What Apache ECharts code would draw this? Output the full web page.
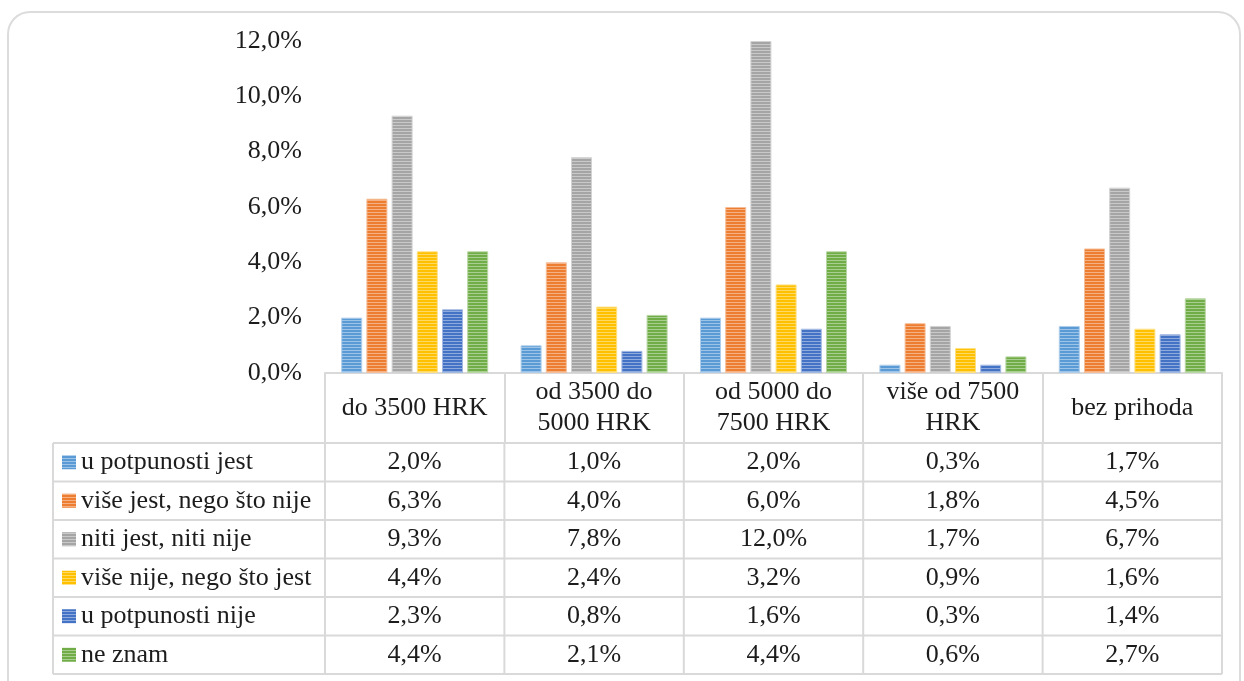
<!DOCTYPE html>
<html>
<head>
<meta charset="utf-8">
<script src="https://cdn.jsdelivr.net/npm/echarts@6/dist/echarts.min.js"></script>
<style>
html,body{margin:0;padding:0;background:#fff;}
#chart{width:1244px;height:681px;}
</style>
</head>
<body>
<div id="chart"></div>
<script>
// ---- data ----
const categories = ['do 3500 HRK', 'od 3500 do\n5000 HRK', 'od 5000 do\n7500 HRK', 'više od 7500\nHRK', 'bez prihoda'];
const seriesNames = ['u potpunosti jest', 'više jest, nego što nije', 'niti jest, niti nije', 'više nije, nego što jest', 'u potpunosti nije', 'ne znam'];
const uPotpunostiJest = [2.0, 1.0, 2.0, 0.3, 1.7];
const viseJest = [6.3, 4.0, 6.0, 1.8, 4.5];
const nitiJestNitiNije = [9.3, 7.8, 12.0, 1.7, 6.7];
const viseNije = [4.4, 2.4, 3.2, 0.9, 1.6];
const uPotpunostiNije = [2.3, 0.8, 1.6, 0.3, 1.4];
const neZnam = [4.4, 2.1, 4.4, 0.6, 2.7];
const seriesValues = [uPotpunostiJest, viseJest, nitiJestNitiNije, viseNije, uPotpunostiNije, neZnam];
const yTicks = [0, 2, 4, 6, 8, 10, 12];
const colors = ['#5B9BD5', '#ED7D31', '#A5A5A5', '#FFC000', '#4472C4', '#70AD47'];

const fmt = v => v.toFixed(1).replace('.', ',') + '%';
const FONT = '"Liberation Serif", "Times New Roman", serif';
const FS = 26;
const TXT = '#1c1c1c';
const LINE = '#d9d9d9';

function lighten(hex, t) {
  const n = parseInt(hex.slice(1), 16);
  const r = (n >> 16) & 255, g = (n >> 8) & 255, b = n & 255;
  const f = c => Math.round(c + (255 - c) * t);
  return 'rgb(' + f(r) + ',' + f(g) + ',' + f(b) + ')';
}
function pattern(hex) {
  const c = document.createElement('canvas');
  c.width = 4; c.height = 3;
  const ctx = c.getContext('2d');
  ctx.fillStyle = hex; ctx.fillRect(0, 0, 4, 3);
  ctx.fillStyle = lighten(hex, 0.4); ctx.fillRect(0, 2, 4, 1);
  return { image: c, repeat: 'repeat' };
}

const chart = echarts.init(document.getElementById('chart'), null, { renderer: 'canvas' });

const gridLeft = 325, gridRight = 22, gridTop = 41, gridBottom = 308;

const option = {
  animation: false,
  backgroundColor: '#fff',
  grid: { left: gridLeft, right: gridRight, top: gridTop, bottom: gridBottom, containLabel: false },
  xAxis: {
    type: 'category',
    data: categories,
    axisLine: { lineStyle: { color: LINE, width: 2 } },
    axisTick: { show: true, interval: 0, length: 70, lineStyle: { color: LINE, width: 2 } },
    axisLabel: { interval: 0, margin: 35, verticalAlign: 'middle', fontFamily: FONT, fontSize: FS, color: TXT, lineHeight: 31, align: 'center' },
    splitLine: { show: false }
  },
  yAxis: {
    type: 'value',
    min: yTicks[0], max: yTicks[yTicks.length - 1], interval: 2,
    axisLine: { show: false }, axisTick: { show: false }, splitLine: { show: false },
    axisLabel: { margin: 23, fontFamily: FONT, fontSize: FS, color: TXT, formatter: v => fmt(v) }
  },
  series: seriesNames.map((name, i) => ({
    name, type: 'bar', data: seriesValues[i],
    barWidth: 21, barGap: '20%',
    itemStyle: { color: pattern(colors[i]), borderColor: lighten(colors[i], 0.5), borderWidth: 1 }
  }))
};
chart.setOption(option);

// ---- data table built from the arrays ----
const headerBottom = 443, rowH = 38.5, tableLeft = 53;
const plotRight = 1244 - gridRight;
const colW = (plotRight - gridLeft) / categories.length;
const g = [];
// outer rounded frame
g.push({ type: 'rect', shape: { x: 8, y: 12, width: 1232, height: 720, r: 22 }, style: { fill: 'none', stroke: '#dcdcdc', lineWidth: 2 }, z: 0, silent: true });
for (let r = 0; r <= seriesNames.length; r++) {
  const y = headerBottom + r * rowH;
  g.push({ type: 'line', shape: { x1: tableLeft, y1: y, x2: plotRight, y2: y }, style: { stroke: LINE, lineWidth: 2 }, silent: true });
}
const yEnd = headerBottom + seriesNames.length * rowH;
g.push({ type: 'line', shape: { x1: tableLeft, y1: headerBottom, x2: tableLeft, y2: yEnd }, style: { stroke: LINE, lineWidth: 2 }, silent: true });
for (let c = 0; c <= categories.length; c++) {
  const x = gridLeft + c * colW;
  g.push({ type: 'line', shape: { x1: x, y1: headerBottom, x2: x, y2: yEnd }, style: { stroke: LINE, lineWidth: 2 }, silent: true });
}
seriesNames.forEach((name, r) => {
  const cy = headerBottom + r * rowH + rowH / 2;
  g.push({ type: 'rect', shape: { x: 62, y: cy - 7, width: 14, height: 14 }, style: { fill: pattern(colors[r]) }, silent: true });
  g.push({ type: 'text', x: 81, y: cy, style: { text: name, fontFamily: FONT, fontSize: FS, fill: TXT, align: 'left', verticalAlign: 'middle' }, silent: true });
  seriesValues[r].forEach((v, c) => {
    const cx = chart.convertToPixel({ xAxisIndex: 0 }, c);
    g.push({ type: 'text', x: cx, y: cy, style: { text: fmt(v), fontFamily: FONT, fontSize: FS, fill: TXT, align: 'center', verticalAlign: 'middle' }, silent: true });
  });
});
chart.setOption({ graphic: g });
</script>
</body>
</html>
